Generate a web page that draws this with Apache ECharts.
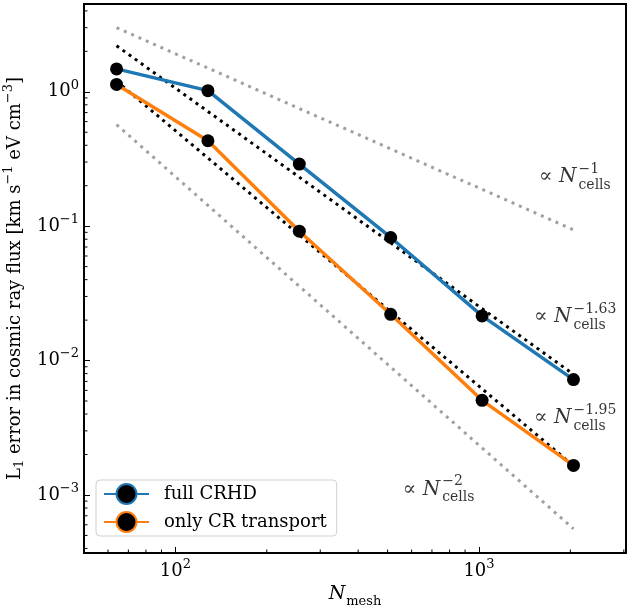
<!DOCTYPE html>
<html>
<head>
<meta charset="utf-8">
<script src="https://cdn.jsdelivr.net/npm/echarts@6/dist/echarts.min.js"></script>
<style>
  html, body { margin: 0; padding: 0; background: #fff; }
  #chart { width: 627px; height: 608px; }
</style>
</head>
<body>
<div id="chart"></div>
<script>
// resolution (N_mesh) and L1 errors
var nMesh = [64, 128, 256, 512, 1024, 2048];
var errFull = [1.48, 1.02, 0.29, 0.0824, 0.0215, 0.00722];
var errCR = [1.135, 0.432, 0.0918, 0.0221, 0.00506, 0.00166];

// scaling guide lines: end points only (straight in log-log)
var guideX = [64, 2048];
var guideN1 = [3.0, 0.094];
var guideN2 = [0.57, 0.00056];
var guide163 = [2.2, 0.0079];
var guide195 = [1.2, 0.00165];

// "∝ N_cells^p" annotations
var annotExp = ['−1', '−1.63', '−1.95', '−2'];
var annotX = [1578, 1519, 1519, 561];
var annotY = [0.232, 0.021, 0.00372, 0.0011];

// minor tick values
var xMinor = [50, 60, 70, 80, 90, 200, 300, 400, 500, 600, 700, 800, 900, 2000, 3000];
var yMinor = [4e-4, 5e-4, 6e-4, 7e-4, 8e-4, 9e-4,
    2e-3, 3e-3, 4e-3, 5e-3, 6e-3, 7e-3, 8e-3, 9e-3,
    2e-2, 3e-2, 4e-2, 5e-2, 6e-2, 7e-2, 8e-2, 9e-2,
    0.2, 0.3, 0.4, 0.5, 0.6, 0.7, 0.8, 0.9, 2, 3, 4];

var X_MIN = 50, X_MAX = 3050, Y_MIN = 3.7e-4, Y_MAX = 4.5;
var FONT = "'DejaVu Serif', serif";
var BLUE = '#1f77b4', ORANGE = '#ff7f0e', GREY = '#a0a0a0';

function pairs(xs, ys) {
    var out = [];
    for (var i = 0; i < xs.length; i++) out.push([xs[i], ys[i]]);
    return out;
}

function powLabel(v) {
    var lg = Math.log10(v);
    var e = Math.round(lg);
    if (Math.abs(lg - e) > 1e-6) return '';
    return '{b|10}{sup|' + (e < 0 ? '−' + (-e) : e) + '}';
}

var tickRich = {
    b: {fontFamily: FONT, fontSize: 18, color: '#000', lineHeight: 26, verticalAlign: 'middle'},
    sup: {fontFamily: FONT, fontSize: 13, color: '#000', verticalAlign: 'top'}
};

function guide(data, color, dash) {
    return {
        type: 'line',
        data: data,
        symbol: 'none',
        silent: true,
        z: 2,
        lineStyle: {color: color, width: 3, type: dash, cap: 'butt'}
    };
}

function dataSeries(name, ys, color) {
    return {
        name: name,
        type: 'line',
        data: pairs(nMesh, ys),
        symbol: 'circle',
        symbolSize: 13,
        z: 3,
        lineStyle: {color: color, width: 3.5},
        itemStyle: {color: '#000', borderColor: '#000', borderWidth: 0}
    };
}

var annotRich = {
    p: {fontFamily: FONT, fontSize: 20, color: '#000', lineHeight: 30, verticalAlign: 'middle'},
    n: {fontFamily: FONT, fontSize: 20, fontStyle: 'italic', color: '#000', lineHeight: 30, verticalAlign: 'middle'},
    ph: {fontFamily: FONT, fontSize: 20, color: 'transparent', lineHeight: 30, verticalAlign: 'middle'},
    nh: {fontFamily: FONT, fontSize: 20, fontStyle: 'italic', color: 'transparent', lineHeight: 30, verticalAlign: 'middle'},
    sup: {fontFamily: FONT, fontSize: 14, color: '#000', verticalAlign: 'top', padding: [0, 0, 0, 2]},
    sub: {fontFamily: FONT, fontSize: 14, color: '#000', verticalAlign: 'bottom', padding: [0, 0, 0, 2]}
};

function annotSeries(isSup) {
    return {
        type: 'scatter',
        data: pairs(annotX, annotY),
        symbolSize: 0,
        silent: true,
        z: 5,
        label: {
            show: true,
            position: 'right',
            distance: 0,
            rich: annotRich,
            formatter: function (p) {
                if (isSup) return '{p|∝ }{n|N}{sup|' + annotExp[p.dataIndex] + '}';
                return '{ph|∝ }{nh|N}{sub|cells}';
            }
        }
    };
}

function minorSeries(isX) {
    var vals = isX ? xMinor : yMinor;
    var data = [];
    for (var i = 0; i < vals.length; i++) data.push(isX ? [vals[i], Y_MIN] : [X_MIN, vals[i]]);
    return {
        type: 'custom',
        data: data,
        silent: true,
        clip: false,
        z: 6,
        renderItem: function (params, api) {
            var pt = api.coord([api.value(0), api.value(1)]);
            return {
                type: 'line',
                shape: isX ? {x1: pt[0], y1: pt[1], x2: pt[0], y2: pt[1] - 3.5}
                           : {x1: pt[0], y1: pt[1], x2: pt[0] + 3.5, y2: pt[1]},
                style: {stroke: '#000', lineWidth: 1}
            };
        }
    };
}

var myChart = echarts.init(document.getElementById('chart'));
myChart.setOption({
    animation: false,
    backgroundColor: '#fff',
    grid: {
        left: 84, right: 1, top: 4, bottom: 55,
        show: true, borderColor: '#000', borderWidth: 2,
        outerBoundsMode: 'none'
    },
    legend: {
        left: 96, top: 480,
        orient: 'vertical',
        padding: [3, 10, 3, 7],
        itemGap: 6,
        itemWidth: 45,
        itemHeight: 25,
        borderColor: '#d0d0d0',
        borderWidth: 1,
        borderRadius: 4,
        backgroundColor: 'rgba(255,255,255,0.85)',
        textStyle: {fontFamily: FONT, fontSize: 18, color: '#000', padding: [0, 0, 0, 10]},
        data: [
            {name: 'full CRHD', itemStyle: {color: '#000', borderColor: BLUE, borderWidth: 2}},
            {name: 'only CR transport', itemStyle: {color: '#000', borderColor: ORANGE, borderWidth: 2}}
        ]
    },
    xAxis: {
        type: 'log',
        min: X_MIN, max: X_MAX,
        name: '{n|N}{sub|mesh}',
        nameLocation: 'middle',
        nameGap: 26,
        nameTextStyle: {
            rich: {
                n: {fontFamily: FONT, fontSize: 19, fontStyle: 'italic', color: '#000', verticalAlign: 'top'},
                sub: {fontFamily: FONT, fontSize: 13, color: '#000', verticalAlign: 'bottom', padding: [10, 0, 0, 1]}
            }
        },
        axisLine: {lineStyle: {color: '#000', width: 2}},
        axisTick: {inside: true, length: 6, lineStyle: {color: '#000', width: 1}},
        axisLabel: {margin: 5, formatter: powLabel, rich: tickRich},
        splitLine: {show: false},
        minorTick: {show: false}
    },
    yAxis: {
        type: 'log',
        min: Y_MIN, max: Y_MAX,
        name: '{b|L}{sub|1}{b| error in cosmic ray flux [km s}{sup|−1}{b| eV cm}{sup|−3}{b|]}',
        nameLocation: 'middle',
        nameGap: 51,
        nameTextStyle: {
            rich: {
                b: {fontFamily: FONT, fontSize: 18, color: '#000', lineHeight: 26, verticalAlign: 'middle'},
                sup: {fontFamily: FONT, fontSize: 13, color: '#000', verticalAlign: 'top'},
                sub: {fontFamily: FONT, fontSize: 13, color: '#000', verticalAlign: 'bottom', padding: [0, 0, 2, 0]}
            }
        },
        axisLine: {lineStyle: {color: '#000', width: 2}},
        axisTick: {inside: true, length: 6, lineStyle: {color: '#000', width: 1}},
        axisLabel: {margin: 5, formatter: powLabel, rich: tickRich},
        splitLine: {show: false},
        minorTick: {show: false}
    },
    series: [
        guide(pairs(guideX, guideN1), GREY, [3, 5]),
        guide(pairs(guideX, guideN2), GREY, [3, 5]),
        guide(pairs(guideX, guide163), '#000', [3, 4.5]),
        guide(pairs(guideX, guide195), '#000', [3, 4.5]),
        dataSeries('full CRHD', errFull, BLUE),
        dataSeries('only CR transport', errCR, ORANGE),
        annotSeries(true),
        annotSeries(false),
        minorSeries(true),
        minorSeries(false)
    ]
});
</script>
</body>
</html>
